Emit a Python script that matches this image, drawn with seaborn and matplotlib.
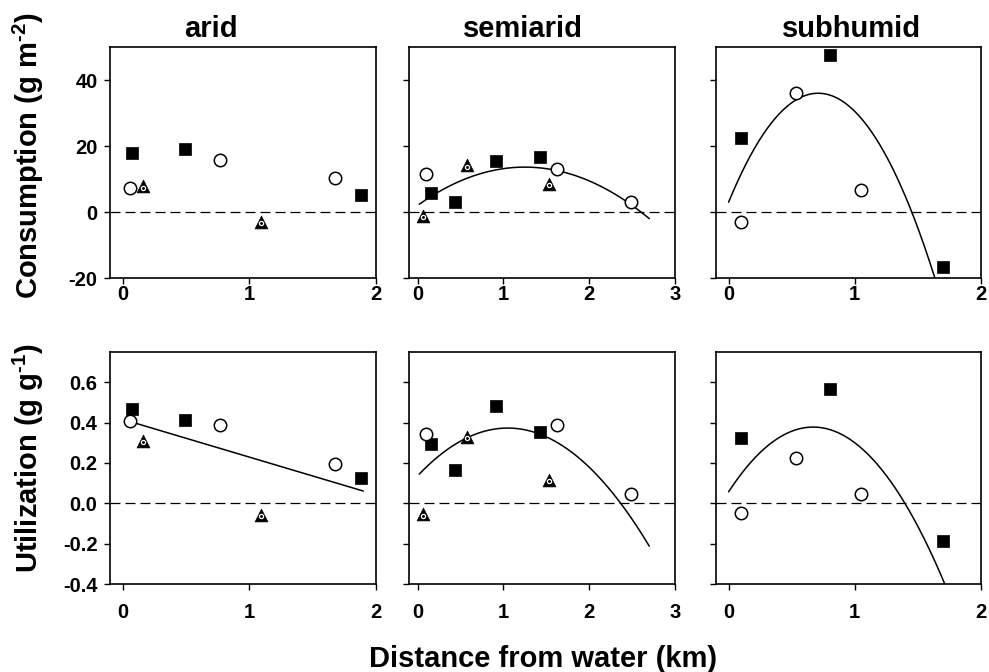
import numpy as np
import matplotlib
matplotlib.use("Agg")
import matplotlib.pyplot as plt
import seaborn as sns

# ---------------- data ----------------
sites = ["arid", "semiarid", "subhumid"]

# arid
arid_sq_x = [0.07, 0.495, 1.88]
arid_sq_cons = [18.0, 19.0, 5.1]
arid_sq_util = [0.465, 0.415, 0.124]
arid_ci_x = [0.055, 0.77, 1.68]
arid_ci_cons = [7.3, 15.8, 10.3]
arid_ci_util = [0.41, 0.39, 0.193]
arid_tr_x = [0.16, 1.09]
arid_tr_cons = [7.8, -2.9]
arid_tr_util = [0.31, -0.056]

# semiarid
semi_sq_x = [0.16, 0.435, 0.915, 1.425]
semi_sq_cons = [5.8, 3.1, 15.6, 16.6]
semi_sq_util = [0.296, 0.164, 0.48, 0.353]
semi_ci_x = [0.093, 1.62, 2.485]
semi_ci_cons = [11.6, 13.1, 2.9]
semi_ci_util = [0.345, 0.39, 0.048]
semi_tr_x = [0.066, 0.576, 1.53]
semi_tr_cons = [-1.2, 14.1, 8.6]
semi_tr_util = [-0.055, 0.33, 0.117]

# subhumid
subh_sq_x = [0.10, 0.80, 1.70]
subh_sq_cons = [22.5, 47.5, -16.6]
subh_sq_util = [0.325, 0.565, -0.187]
subh_ci_x = [0.10, 0.53, 1.05]
subh_ci_cons = [-2.9, 36.2, 6.8]
subh_ci_util = [-0.048, 0.226, 0.046]
subh_tr_x = []
subh_tr_cons = []
subh_tr_util = []

# fitted regression coefficients (c0, c1, c2) and x-range of each curve
fit_cons = {"arid": None,
            "semiarid": ([1.99, 18.58, -7.43], [0.02, 2.7]),
            "subhumid": ([2.98, 93.0, -65.5], [0.0, 1.7])}
fit_util = {"arid": ([0.416, -0.187, 0.0], [0.05, 1.9]),
            "semiarid": ([0.136, 0.4515, -0.215], [0.02, 2.7]),
            "subhumid": ([0.057, 0.958, -0.715], [0.0, 1.75])}

x_ticks = {"arid": [0, 1, 2], "semiarid": [0, 1, 2, 3], "subhumid": [0, 1, 2]}
x_lims = {"arid": (-0.1, 2.0), "semiarid": (-0.1, 3.0), "subhumid": (-0.1, 2.0)}
cons_ticks = [-20, 0, 20, 40]
util_ticks = [-0.4, -0.2, 0.0, 0.2, 0.4, 0.6]

# ---------------- style ----------------
sns.set_theme(style="ticks")
plt.rcParams["font.family"] = ["Liberation Sans", "DejaVu Sans"]
plt.rcParams["font.weight"] = "bold"
plt.rcParams["mathtext.fontset"] = "custom"
plt.rcParams["mathtext.rm"] = "Liberation Sans:bold"
plt.rcParams["mathtext.bf"] = "Liberation Sans:bold"
plt.rcParams["mathtext.default"] = "rm"
for key in ["text.color", "axes.labelcolor", "xtick.color", "ytick.color",
            "axes.edgecolor"]:
    plt.rcParams[key] = "black"

W, H = 989, 672
fig = plt.figure(figsize=(W / 100, H / 100), dpi=100)

cols_px = [(110, 376), (409, 675), (716, 981)]
rows_px = [(47, 278), (352, 584)]


def add_ax(col, row):
    l, r = cols_px[col]
    t, b = rows_px[row]
    return fig.add_axes([l / W, 1 - b / H, (r - l) / W, (b - t) / H])


data = {
    "arid": dict(sq=(arid_sq_x, arid_sq_cons, arid_sq_util),
                 ci=(arid_ci_x, arid_ci_cons, arid_ci_util),
                 tr=(arid_tr_x, arid_tr_cons, arid_tr_util)),
    "semiarid": dict(sq=(semi_sq_x, semi_sq_cons, semi_sq_util),
                     ci=(semi_ci_x, semi_ci_cons, semi_ci_util),
                     tr=(semi_tr_x, semi_tr_cons, semi_tr_util)),
    "subhumid": dict(sq=(subh_sq_x, subh_sq_cons, subh_sq_util),
                     ci=(subh_ci_x, subh_ci_cons, subh_ci_util),
                     tr=(subh_tr_x, subh_tr_cons, subh_tr_util)),
}

for ci, site in enumerate(sites):
    for ri in range(2):
        ax = add_ax(ci, ri)
        d = data[site]
        fit = fit_cons[site] if ri == 0 else fit_util[site]
        ylim = (-20, 50) if ri == 0 else (-0.4, 0.75)
        yt = cons_ticks if ri == 0 else util_ticks

        ax.axhline(0, color="black", lw=0.9, ls=(0, (8, 4)), zorder=1)

        if fit is not None:
            coef, (x0, x1) = fit
            xs = np.linspace(x0, x1, 200)
            ys = coef[0] + coef[1] * xs + coef[2] * xs ** 2
            sns.lineplot(x=xs, y=ys, ax=ax, color="black", lw=1.1, zorder=2)

        k = ri + 1
        sx, sy = d["sq"][0], d["sq"][k]
        sns.scatterplot(x=sx, y=sy, ax=ax, marker="s", s=80, color="black",
                        edgecolor="black", linewidth=0.5, zorder=4)
        cx, cy = d["ci"][0], d["ci"][k]
        sns.scatterplot(x=cx, y=cy, ax=ax, marker="o", s=80, facecolor="white",
                        edgecolor="black", linewidth=1.1, zorder=4)
        tx, ty = d["tr"][0], d["tr"][k]
        if len(tx):
            sns.scatterplot(x=tx, y=ty, ax=ax, marker="^", s=85, color="black",
                            edgecolor="black", linewidth=0.5, zorder=4)
            sns.scatterplot(x=tx, y=np.array(ty) - (ylim[1] - ylim[0]) * 0.006,
                            ax=ax, marker="o", s=9, facecolor="black",
                            edgecolor="white", linewidth=0.9, zorder=5)

        ax.set_xlim(*x_lims[site])
        ax.set_ylim(*ylim)
        ax.set_xticks(x_ticks[site])
        ax.set_xticklabels([str(v) for v in x_ticks[site]])
        ax.set_yticks(yt)
        if ci == 0:
            if ri == 0:
                ax.set_yticklabels([str(v) for v in yt])
            else:
                ax.set_yticklabels([f"{v:.1f}" for v in yt])
        else:
            ax.set_yticklabels([])
        ax.tick_params(direction="out", length=4, width=1.0,
                       labelsize=14.5, top=False, right=False)
        ax.tick_params(axis="y", pad=5)
        ax.tick_params(axis="x", pad=1 if ri == 0 else 10)
        for lab in ax.get_xticklabels() + ax.get_yticklabels():
            lab.set_fontweight("bold")
        for sp in ax.spines.values():
            sp.set_visible(True)
            sp.set_linewidth(1.2)
            sp.set_color("black")
        ax.set_xlabel("")
        ax.set_ylabel("")
        ax.grid(False)

# titles
title_x = [211, 523, 852]
for site, tx in zip(sites, title_x):
    fig.text(tx / W, 1 - 37 / H, site, ha="center", va="baseline",
             fontsize=21, fontweight="bold")

fig.text(28 / W, 1 - 156 / H, "Consumption (g m$^{\\text{-2}}$)", rotation=90,
         ha="center", va="center", fontsize=21, fontweight="bold")
fig.text(28 / W, 1 - 458 / H, "Utilization (g g$^{\\text{-1}}$)", rotation=90,
         ha="center", va="center", fontsize=21, fontweight="bold")
fig.text(543 / W, 1 - 667 / H, "Distance from water (km)", ha="center",
         va="baseline", fontsize=21, fontweight="bold")

fig.savefig("out.png", dpi=100)
